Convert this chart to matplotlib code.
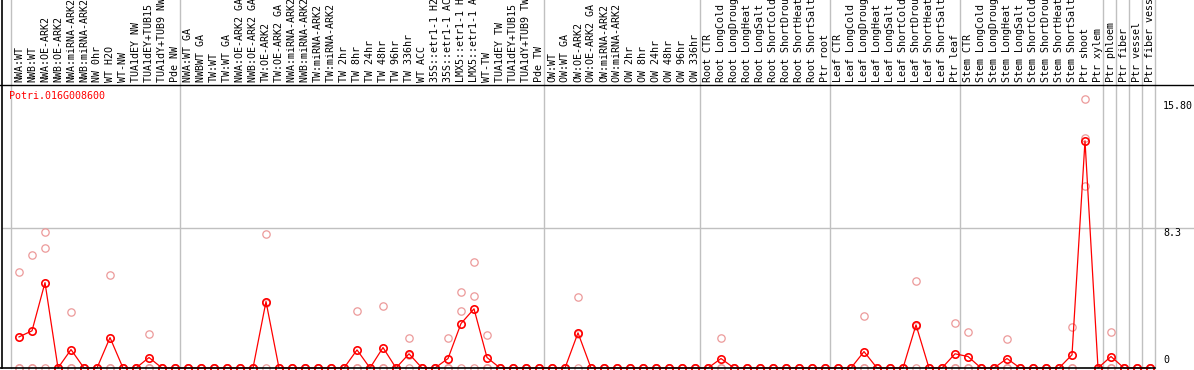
import matplotlib
matplotlib.use('Agg')
import matplotlib.pyplot as plt
from matplotlib.lines import Line2D
import matplotlib.transforms as mtransforms

# Sample names, one per column of the chart
samples_nw = ['NWA:WT', 'NWB:WT', 'NWA:OE-ARK2', 'NWB:OE-ARK2', 'NWA:miRNA-ARK2',
              'NWB:miRNA-ARK2', 'NW 0hr', 'WT H2O', 'WT-NW', 'TUA1dEY NW',
              'TUA1dEY+TUB15 NW', 'TUA1dY+TUB9 NW', 'Pde NW']
samples_tw = ['NWA:WT GA', 'NWBWT GA', 'TW:WT', 'TW:WT GA', 'NWA:OE-ARK2 GA',
              'NWB:OE-ARK2 GA', 'TW:OE-ARK2', 'TW:OE-ARK2 GA', 'NWA:miRNA-ARK2 GA',
              'NWB:miRNA-ARK2 GA', 'TW:miRNA-ARK2', 'TW:miRNA-ARK2 GA', 'TW 2hr',
              'TW 8hr', 'TW 24hr', 'TW 48hr', 'TW 96hr', 'TW 336hr', 'WT ACC',
              '35S::etr1-1 H2O', '35S::etr1-1 ACC', 'LMX5::etr1-1 H2O',
              'LMX5::etr1-1 ACC', 'WT-TW', 'TUA1dEY TW', 'TUA1dEY+TUB15 TW',
              'TUA1dY+TUB9 TW', 'Pde TW']
samples_ow = ['OW:WT', 'OW:WT GA', 'OW:OE-ARK2', 'OW:OE-ARK2 GA', 'OW:miRNA-ARK2',
              'OW:miRNA-ARK2 GA', 'OW 2hr', 'OW 8hr', 'OW 24hr', 'OW 48hr',
              'OW 96hr', 'OW 336hr']
samples_root = ['Root CTR', 'Root LongCold', 'Root LongDrought', 'Root LongHeat',
                'Root LongSalt', 'Root ShortCold', 'Root ShortDrought',
                'Root ShortHeat', 'Root ShortSalt', 'Ptr root']
samples_leaf = ['Leaf CTR', 'Leaf LongCold', 'Leaf LongDrought', 'Leaf LongHeat',
                'Leaf LongSalt', 'Leaf ShortCold', 'Leaf ShortDrought',
                'Leaf ShortHeat', 'Leaf ShortSalt', 'Ptr leaf']
samples_stem = ['Stem CTR', 'Stem LongCold', 'Stem LongDrought', 'Stem LongHeat',
                'Stem LongSalt', 'Stem ShortCold', 'Stem ShortDrought',
                'Stem ShortHeat', 'Stem ShortSalt', 'Ptr shoot', 'Ptr xylem']
samples_ptr = ['Ptr phloem', 'Ptr fiber', 'Ptr vessel', 'Ptr fiber vessel']

groups = [samples_nw, samples_tw, samples_ow, samples_root, samples_leaf,
          samples_stem, ['Ptr phloem'], ['Ptr fiber'], ['Ptr vessel'],
          ['Ptr fiber vessel']]

# Mean expression per sample
mean_vals = ([1.84, 2.2, 5.05, 0, 1.09, 0, 0, 1.8, 0, 0, 0.62, 0, 0]
             + [0, 0, 0, 0, 0, 0, 3.93, 0, 0, 0, 0, 0, 0, 1.07, 0, 1.21, 0, 0.84,
                0, 0, 0.56, 2.63, 3.5, 0.62, 0, 0, 0, 0]
             + [0, 0, 2.08, 0, 0, 0, 0, 0, 0, 0, 0, 0]
             + [0, 0.56, 0, 0, 0, 0, 0, 0, 0, 0]
             + [0, 0, 0.97, 0, 0, 0, 2.55, 0, 0, 0.84]
             + [0.68, 0, 0, 0.56, 0, 0, 0, 0, 0.78, 13.44, 0]
             + [0.68, 0, 0, 0])

# Individual replicates
rep1 = ([5.68, 6.7, 8.04, 0, 3.34, 0, 0, 5.5, 0, 0, 2.02, 0, 0]
        + [0, 0, 0, 0, 0, 0, 7.93, 0, 0, 0, 0, 0, 0, 3.4, 0, 3.67, 0, 1.78,
           0, 0, 1.78, 4.52, 6.29, 1.96, 0, 0, 0, 0]
        + [0, 0, 4.2, 0, 0, 0, 0, 0, 0, 0, 0, 0]
        + [0, 1.78, 0, 0, 0, 0, 0, 0, 0, 0]
        + [0, 0, 3.08, 0, 0, 0, 5.15, 0, 0, 2.67]
        + [2.14, 0, 0, 1.74, 0, 0, 0, 0, 2.43, 15.9, 0]
        + [2.14, 0, 0, 0])
rep2 = ([0, 0, 7.1, 0, 0, 0, 0, 0, 0, 0, 0, 0, 0]
        + [0, 0, 0, 0, 0, 0, 3.87, 0, 0, 0, 0, 0, 0, 0, 0, 0, 0, 0.74,
           0, 0, 0, 3.4, 4.26, 0, 0, 0, 0, 0]
        + [0, 0, 2.04, 0, 0, 0, 0, 0, 0, 0, 0, 0]
        + [0, 0, 0, 0, 0, 0, 0, 0, 0, 0]
        + [0, 0, 0, 0, 0, 0, 2.5, 0, 0, 0]
        + [0, 0, 0, 0, 0, 0, 0, 0, 0, 13.6, 0]
        + [0, 0, 0, 0])
rep3 = [0] * 82 + [10.74] + [0] * 5

labels = [s for g in groups for s in g]
x = list(range(len(labels)))

W, H = 1194, 370
fig = plt.figure(figsize=(W / 100, H / 100), dpi=100)

# plot box in pixels
px_left, px_right, px_top, px_bottom = 2, 1155, 85, 368
ax = fig.add_axes([px_left / W, (H - px_bottom) / H,
                   (px_right - px_left) / W, (px_bottom - px_top) / H])
x0, step = 19, 13
ax.set_xlim((px_left - x0) / step, (px_right - x0) / step)
ytop = 16.74
ax.set_ylim(0, ytop)
ax.axis('off')

grey = '#c0c0c0'
mono = 'DejaVu Sans Mono'

# group separators (run up through the label area)
bounds = [-1]
n = 0
for g in groups:
    n += len(g)
    bounds.append(n - 1)
for b in bounds:
    ax.axvline(b + 0.38, ymin=0, ymax=px_bottom / (px_bottom - px_top),
               color=grey, lw=1, clip_on=False, zorder=1)

# mid gridline
ax.axhline(8.3, xmin=0, xmax=(W - px_left) / (px_right - px_left),
           color=grey, lw=1, clip_on=False, zorder=1)

# frame lines
fig.add_artist(Line2D([0, 1], [(H - px_top) / H] * 2, color='black', lw=1))
fig.add_artist(Line2D([px_left / W] * 2, [(H - px_bottom) / H, 1], color='black', lw=1.2))
fig.add_artist(Line2D([0, px_right / W], [(H - px_bottom) / H] * 2, color='black', lw=1.2))

# replicates
for r in (rep1, rep2, rep3):
    ax.plot(x, r, ls='none', marker='o', ms=5.3, mfc='none', mec='#ec9a9a',
            mew=0.9, clip_on=False, zorder=2)

# mean line
ax.plot(x, mean_vals, color='red', lw=0.9, marker='o', ms=5.3, mfc='none',
        mec='red', mew=1.2, clip_on=False, zorder=3)

# sample labels
trans = mtransforms.blended_transform_factory(ax.transData, ax.transAxes)
for i, lab in enumerate(labels):
    ax.text(i, 1 + 3 / (px_bottom - px_top), lab, rotation=90, ha='center',
            va='bottom', fontsize=7.2, family=mono, transform=trans,
            clip_on=False)

# gene id
fig.text(9 / W, 1 - 96 / H, 'Potri.016G008600', color='red', fontsize=7.2,
         family=mono, ha='left', va='center')

# value labels on the right
ytrans = mtransforms.blended_transform_factory(ax.transAxes, ax.transData)
xr = (1163 - px_left) / (px_right - px_left)
ax.text(xr, 15.80, '15.80', transform=ytrans, fontsize=7.2, family=mono,
        ha='left', va='top')
ax.text(xr, 8.3, '8.3', transform=ytrans, fontsize=7.2, family=mono,
        ha='left', va='top')
ax.text(xr, 0.2, '0', transform=ytrans, fontsize=7.2, family=mono,
        ha='left', va='bottom')

fig.savefig('out.png', dpi=100)
